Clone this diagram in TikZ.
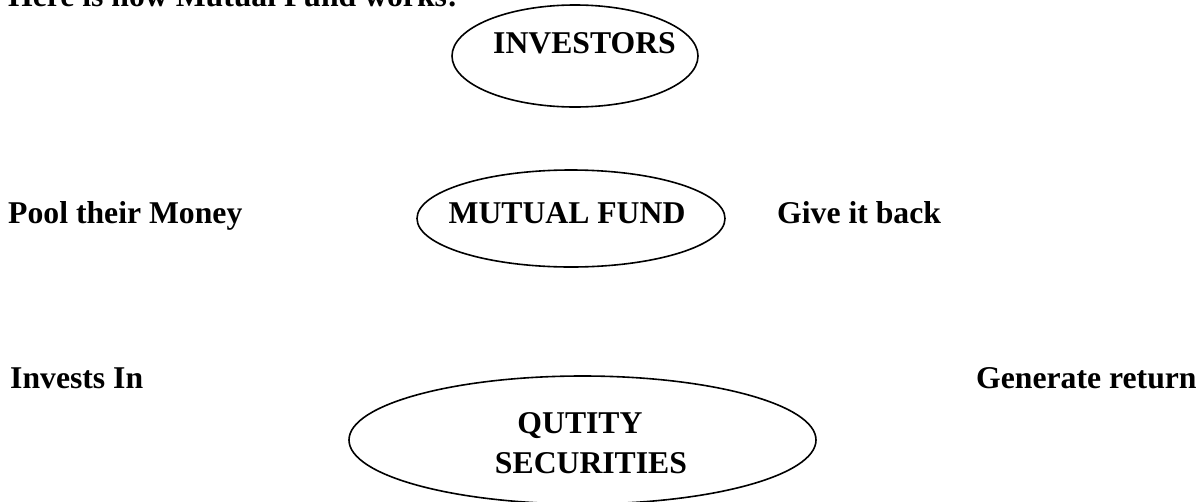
\documentclass[tikz,border=0pt]{standalone}
\usepackage{fontspec}
\setmainfont{Liberation Serif}
\usetikzlibrary{shapes.geometric}
\begin{document}
\begin{tikzpicture}[x=1pt,y=-1pt,
  lbl/.style={inner sep=0pt, font=\fontsize{31.7}{38}\selectfont\bfseries},
  oval/.style={draw, ellipse, line width=1.6pt, inner sep=0pt}]
  \useasboundingbox (0,0) rectangle (1196,501);

  % ovals
  \node[oval, minimum width=246pt, minimum height=102pt] (inv) at (575,56) {};
  \node[oval, minimum width=308pt, minimum height=97pt] (mf) at (571,218.5) {};
  \node[oval, minimum width=467pt, minimum height=128pt] (eq) at (582.5,440) {};

  % headline, partly above the page edge
  \node[lbl, anchor=base west] (title) at (8,6) {Here is how Mutual Fund works:};

  % oval captions
  \node[lbl, anchor=base] (tinv) at (584.5,53) {INVESTORS};
  \node[lbl, anchor=base] (tmf) at (567,223) {MUTUAL FUND};
  \node[lbl, anchor=base] (teq1) at (580,433) {QUTITY};
  \node[lbl, anchor=base] (teq2) at (591,473) {SECURITIES};

  % side notes
  \node[lbl, anchor=base west] (pool) at (8,223) {Pool their Money};
  \node[lbl, anchor=base west] (back) at (777,223) {Give it back};
  \node[lbl, anchor=base west] (invin) at (10,388) {Invests In};
  \node[lbl, anchor=base west] (gen) at (976,388) {Generate return};
\end{tikzpicture}
\end{document}
